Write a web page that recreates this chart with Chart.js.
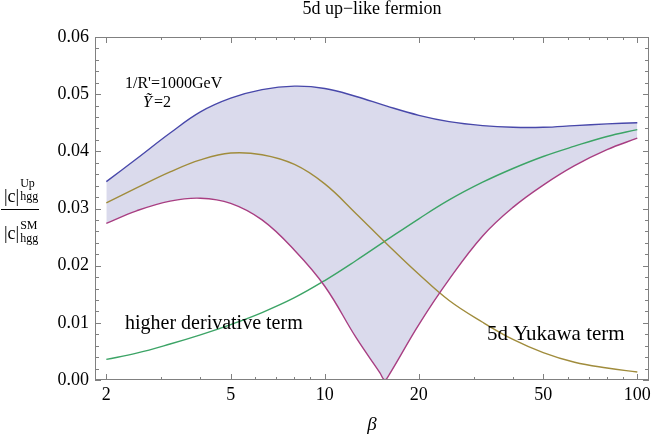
<!DOCTYPE html>
<html>
<head>
<meta charset="utf-8">
<script src="https://cdn.jsdelivr.net/npm/chart.js@4.4.1/dist/chart.umd.min.js"></script>
<style>
  html, body { margin: 0; padding: 0; background: #fff; }
</style>
</head>
<body>
<canvas id="hggChart" width="661" height="436"></canvas>
<script>
// beta values (log x axis)
const beta = [2, 2.5, 3.2, 4, 5, 6.3, 8, 10, 12.6, 15.8, 20, 25, 32, 40, 50, 63, 80, 100];

// 5d Yukawa term
const yukawa = [0.0310, 0.0336, 0.0364, 0.0385, 0.0397, 0.0394, 0.0377, 0.0343, 0.0291, 0.0238, 0.0185, 0.0139, 0.0101, 0.0071, 0.0048, 0.0031, 0.0021, 0.0014];

// higher derivative term
const higherDeriv = [0.0036, 0.0047, 0.0063, 0.0079, 0.0097, 0.0118, 0.0144, 0.0174, 0.0209, 0.0245, 0.0282, 0.0315, 0.0346, 0.0370, 0.0391, 0.0409, 0.0426, 0.0438];

// upper edge of the band
const upper = [0.0347, 0.0387, 0.0432, 0.0469, 0.0493, 0.0508, 0.0514, 0.0510, 0.0496, 0.0479, 0.0463, 0.0452, 0.0445, 0.0442, 0.0442, 0.0445, 0.0448, 0.0450];

// lower edge of the band (own beta grid, denser at the dip)
const betaLower = [2, 2.5, 3.2, 4, 5, 6.3, 8, 10, 12.6, 15, 15.55, 16.1, 20, 25, 32, 40, 50, 63, 80, 100];
const lower = [0.0274, 0.0296, 0.0313, 0.0318, 0.0309, 0.0280, 0.0227, 0.0164, 0.0074, 0.0013, 0.0000, 0.0010, 0.0097, 0.0176, 0.0252, 0.0302, 0.0341, 0.0375, 0.0403, 0.0423];

// axis ticks
const xTicks = [2, 5, 10, 20, 50, 100];
const xMinorTicks = [3, 4, 6, 7, 8, 9, 30, 40, 60, 70, 80, 90];
const yTicks = [0, 0.01, 0.02, 0.03, 0.04, 0.05, 0.06];

const serif = "'Liberation Serif', 'Times New Roman', serif";

function pts(xs, ys) {
    return xs.map((b, i) => ({ x: b, y: ys[i] }));
}

const framePlugin = {
    id: 'frame',
    afterDatasetsDraw(chart) {
        const ctx = chart.ctx;
        const a = chart.chartArea;
        const x = chart.scales.x, y = chart.scales.y;
        ctx.save();
        ctx.lineWidth = 1;
        ctx.strokeStyle = '#808080';
        ctx.strokeRect(a.left + 0.5, a.top + 0.5, a.right - a.left - 1, a.bottom - a.top - 1);

        function seg(x1, y1, x2, y2) {
            ctx.beginPath();
            ctx.moveTo(x1, y1);
            ctx.lineTo(x2, y2);
            ctx.stroke();
        }

        // x ticks, bottom and top, pointing inward
        xTicks.concat(xMinorTicks).forEach(v => {
            const px = Math.round(x.getPixelForValue(v)) + 0.5;
            const len = xTicks.includes(v) ? 6 : 3;
            seg(px, a.bottom, px, a.bottom - len);
            seg(px, a.top, px, a.top + len);
        });

        // y ticks, left and right
        for (let k = 0; k <= 30; k++) {
            const v = k * 0.002;
            const py = Math.round(y.getPixelForValue(v)) + 0.5;
            const len = k % 5 === 0 ? 6 : 4;
            seg(a.left, py, a.left + len, py);
            seg(a.right, py, a.right - len, py);
        }

        // text labels
        ctx.fillStyle = '#000';
        ctx.textBaseline = 'alphabetic';
        ctx.textAlign = 'left';
        ctx.font = '16px ' + serif;
        ctx.fillText("1/R'=1000GeV", 125, 88);
        ctx.font = 'italic 16px ' + serif;
        ctx.fillText('Ỹ', 143, 107);
        ctx.font = '16px ' + serif;
        ctx.fillText('=2', 154, 107);

        ctx.font = '20px ' + serif;
        ctx.fillText('higher derivative term', 125, 329);
        ctx.font = '21px ' + serif;
        ctx.fillText('5d Yukawa term', 487, 340);

        // title
        ctx.textAlign = 'center';
        ctx.font = '18px ' + serif;
        ctx.fillText('5d up\u2212like fermion', 372, 14);

        // x axis label
        ctx.font = 'italic 19px ' + serif;
        ctx.fillText('\u03b2', 372, 430);

        // y axis label as a fraction
        ctx.textAlign = 'left';
        ctx.font = '18px ' + serif;
        ctx.fillText('|c|', 4, 202);
        let w = ctx.measureText('|c|').width;
        ctx.font = '12px ' + serif;
        ctx.fillText('Up', 5 + w, 187);
        ctx.fillText('hgg', 5 + w, 200);

        ctx.font = '18px ' + serif;
        ctx.fillText('|c|', 4, 239);
        ctx.font = '12px ' + serif;
        ctx.fillText('SM', 5 + w, 229);
        ctx.fillText('hgg', 5 + w, 242);

        ctx.strokeStyle = '#000';
        seg(1, 209.5, 39, 209.5);
        ctx.restore();
    }
};

new Chart(document.getElementById('hggChart'), {
    type: 'line',
    data: {
        datasets: [
            {
                label: 'upper',
                data: pts(beta, upper),
                borderColor: '#4848aa',
                borderWidth: 1.4,
                fill: false
            },
            {
                label: 'lower',
                data: pts(betaLower, lower),
                borderColor: '#a83e82',
                borderWidth: 1.4,
                fill: { target: 0, above: 'rgb(218,218,236)', below: 'rgb(218,218,236)' }
            },
            {
                label: '5d Yukawa term',
                data: pts(beta, yukawa),
                borderColor: '#a08c3c',
                borderWidth: 1.4,
                fill: false
            },
            {
                label: 'higher derivative term',
                data: pts(beta, higherDeriv),
                borderColor: '#3ca466',
                borderWidth: 1.4,
                fill: false
            }
        ]
    },
    options: {
        responsive: false,
        animation: false,
        devicePixelRatio: 1,
        layout: { padding: { left: 0, right: 12, top: 37, bottom: 0 } },
        elements: {
            point: { radius: 0 },
            line: { tension: 0.4 }
        },
        plugins: {
            legend: { display: false },
            tooltip: { enabled: false },
            filler: { drawTime: 'beforeDatasetsDraw' }
        },
        scales: {
            x: {
                type: 'logarithmic',
                min: 1.84,
                max: 109,
                grid: { display: false, drawTicks: false },
                border: { display: false },
                afterBuildTicks: s => { s.ticks = xTicks.map(v => ({ value: v })); },
                afterFit: s => { s.height = 56; },
                ticks: {
                    autoSkip: false,
                    maxRotation: 0,
                    minRotation: 0,
                    padding: 4,
                    color: '#000',
                    font: { family: serif, size: 18 },
                    callback: v => String(v)
                }
            },
            y: {
                type: 'linear',
                min: 0,
                max: 0.06,
                grid: { display: false, drawTicks: false },
                border: { display: false },
                afterBuildTicks: s => { s.ticks = yTicks.map(v => ({ value: v })); },
                afterFit: s => { s.width = 95; },
                ticks: {
                    padding: 6,
                    color: '#000',
                    font: { family: serif, size: 18 },
                    callback: v => Number(v).toFixed(2)
                }
            }
        }
    },
    plugins: [framePlugin]
});
</script>
</body>
</html>
